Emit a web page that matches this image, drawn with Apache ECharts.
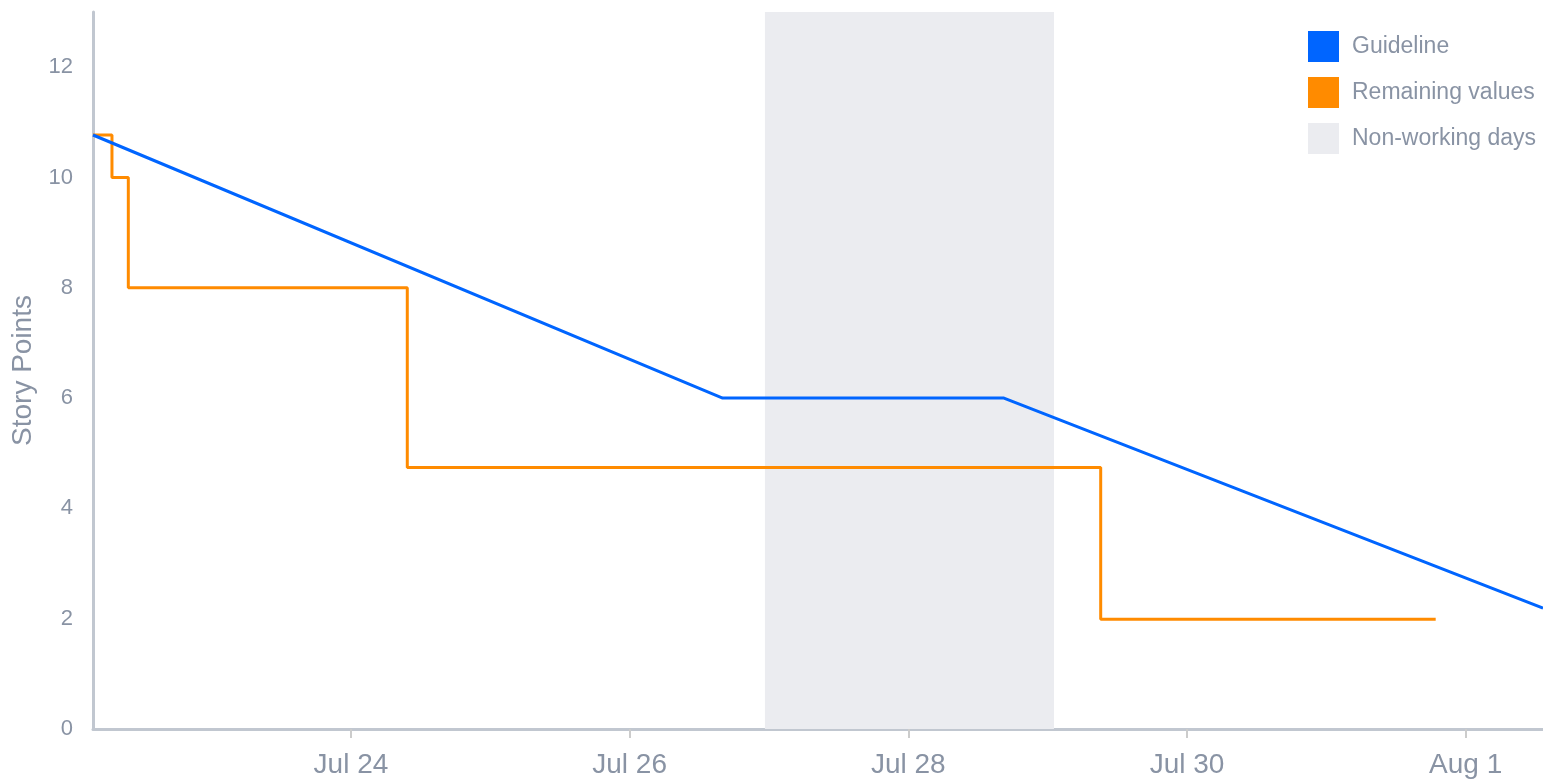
<!DOCTYPE html>
<html>
<head>
<meta charset="utf-8">
<script src="https://cdn.jsdelivr.net/npm/echarts@6/dist/echarts.min.js"></script>
<style>
html,body{margin:0;padding:0;background:#fff;}
#chart{width:1543px;height:780px;}
</style>
</head>
<body>
<div id="chart"></div>
<script>
// ---- data ----
var xMin = '2019-07-22T03:34:00Z';
var xMax = '2019-08-01T13:19:00Z';
var xTickDates = ['2019-07-24T00:00:00Z','2019-07-26T00:00:00Z','2019-07-28T00:00:00Z','2019-07-30T00:00:00Z','2019-08-01T00:00:00Z'];
var yTickValues = [0, 2, 4, 6, 8, 10, 12];

var guidelineTimes = ['2019-07-22T03:34:00Z','2019-07-26T16:01:00Z','2019-07-28T16:28:00Z','2019-08-01T13:19:00Z'];
var guidelineValues = [10.77, 6, 6, 2.19];

var remainingTimes = ['2019-07-22T03:34:00Z','2019-07-22T06:50:00Z','2019-07-22T09:39:00Z','2019-07-24T09:42:00Z','2019-07-29T09:08:00Z','2019-07-31T18:50:00Z'];
var remainingValues = [10.77, 10, 8, 4.74, 1.99, 1.99];

var nonWorkingStart = '2019-07-26T23:18:00Z';
var nonWorkingEnd = '2019-07-29T01:05:00Z';

var seriesNames = ['Guideline', 'Remaining values', 'Non-working days'];
var monthNames = ['Jan','Feb','Mar','Apr','May','Jun','Jul','Aug','Sep','Oct','Nov','Dec'];

// ---- build ----
function t(s){ return Date.parse(s); }
function pairs(ts, vs){ return ts.map(function(x,i){ return [t(x), vs[i]]; }); }

var FONT = "'Liberation Sans', Arial, Helvetica, sans-serif";
var TXT = '#8993A4';
var chart = echarts.init(document.getElementById('chart'), null, {renderer:'canvas'});
chart.setOption({
  animation: false,
  backgroundColor: '#ffffff',
  grid: { left: 93, right: 0, top: 12, bottom: 51 },
  legend: {
    data: seriesNames,
    orient: 'vertical',
    left: 1308,
    top: 31,
    padding: 0,
    icon: 'rect',
    itemWidth: 31,
    itemHeight: 31,
    itemGap: 15,
    textStyle: { color: TXT, fontSize: 23, fontFamily: FONT, padding: [0,0,0,8] }
  },
  xAxis: {
    type: 'value',
    min: t(xMin),
    max: t(xMax),
    splitLine: { show: false },
    axisLine: { show: true, lineStyle: { color: '#C1C7D0', width: 3 } },
    axisTick: { show: true, customValues: xTickDates.map(t), length: 9, lineStyle: { color: '#CCCCCC', width: 2 } },
    axisLabel: {
      customValues: xTickDates.map(t),
      color: TXT, fontSize: 28, fontFamily: FONT, margin: 22,
      formatter: function(v){ var d = new Date(v); return monthNames[d.getUTCMonth()] + ' ' + d.getUTCDate(); }
    }
  },
  yAxis: {
    type: 'value',
    min: 0,
    max: 13,
    name: 'Story Points',
    nameLocation: 'middle',
    nameGap: 47,
    nameTextStyle: { color: TXT, fontSize: 28, fontFamily: FONT },
    splitLine: { show: false },
    axisLine: { show: true, lineStyle: { color: '#C1C7D0', width: 3 } },
    axisTick: { show: false },
    axisLabel: { customValues: yTickValues, color: TXT, fontSize: 22, fontFamily: FONT, margin: 20 }
  },
  series: [
    {
      name: seriesNames[0],
      type: 'line',
      data: pairs(guidelineTimes, guidelineValues),
      color: '#0065FF',
      lineStyle: { color: '#0065FF', width: 3 },
      showSymbol: false,
      symbol: 'none',
      z: 4
    },
    {
      name: seriesNames[1],
      type: 'line',
      step: 'end',
      data: pairs(remainingTimes, remainingValues),
      color: '#FF8B00',
      lineStyle: { color: '#FF8B00', width: 3 },
      showSymbol: false,
      symbol: 'none',
      z: 3
    },
    {
      name: seriesNames[2],
      type: 'line',
      data: [],
      color: '#EBECF0',
      itemStyle: { color: '#EBECF0' },
      lineStyle: { color: '#EBECF0' },
      z: 1,
      markArea: {
        silent: true,
        itemStyle: { color: '#EBECF0' },
        data: [[ { xAxis: t(nonWorkingStart) }, { xAxis: t(nonWorkingEnd) } ]]
      }
    }
  ]
});
</script>
</body>
</html>
